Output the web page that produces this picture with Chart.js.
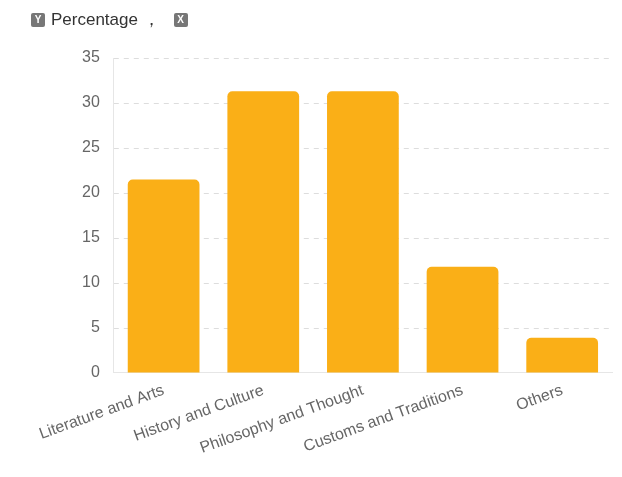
<!DOCTYPE html>
<html>
<head>
<meta charset="utf-8">
<script src="https://cdn.jsdelivr.net/npm/chart.js@4"></script>
<style>
  html, body { margin: 0; padding: 0; background: #fff; }
  #wrap { position: relative; width: 622px; height: 477px; }
  #legend { position: absolute; left: 31px; top: 8px; font-family: "Liberation Sans", Arial, sans-serif; font-size: 17px; color: #333; display: flex; align-items: center; }
  .badge { display: inline-block; width: 14px; height: 14px; line-height: 14px; background: #777; color: #fff; font-size: 10px; font-weight: bold; text-align: center; border-radius: 2px; }
  canvas { position: absolute; left: 0; top: 0; }
</style>
</head>
<body>
<div id="wrap">
  <canvas id="chart" width="622" height="477"></canvas>
  <div id="legend">
    <span class="badge">Y</span><span style="margin-left:6px">Percentage ，</span><span class="badge" style="margin-left:14px">X</span>
  </div>
</div>
<script>
// categorias e valores
const categorias = ["Literature and Arts", "History and Culture", "Philosophy and Thought", "Customs and Traditions", "Others"];
const percentagens = [21.5, 31.3, 31.3, 11.8, 3.9];
const ticksY = [0, 5, 10, 15, 20, 25, 30, 35];

const ctx = document.getElementById("chart").getContext("2d");
new Chart(ctx, {
  type: "bar",
  data: {
    labels: categorias,
    datasets: [
      {
        label: "Percentage",
        data: percentagens,
        backgroundColor: "#FAAF17",
        borderRadius: { topLeft: 5, topRight: 5 },
        borderSkipped: "bottom",
        barPercentage: 0.72,
        categoryPercentage: 1,
      },
    ],
  },
  options: {
    responsive: false,
    animation: false,
    layout: { padding: { top: 58, right: 10, left: 68, bottom: 11 } },
    plugins: {
      legend: { display: false },
      tooltip: { enabled: false },
    },
    scales: {
      x: {
        grid: { display: false, drawTicks: false },
        border: { color: "#e6e6e6" },
        ticks: {
          color: "#666",
          font: { family: "Liberation Sans, Arial, sans-serif", size: 16 },
          minRotation: 20,
          maxRotation: 20,
          padding: 8,
        },
      },
      y: {
        min: ticksY[0],
        max: ticksY[ticksY.length - 1],
        afterBuildTicks: (axis) => {
          axis.ticks = ticksY.map((v) => ({ value: v }));
        },
        grid: { color: "#dddddd", drawTicks: false },
        border: { color: "#e6e6e6", dash: [0, 0] },
        ticks: {
          color: "#666",
          font: { family: "Liberation Sans, Arial, sans-serif", size: 16 },
          padding: 14,
        },
      },
    },
  },
  plugins: [
    {
      // linhas de grade tracejadas
      id: "gradeTracejada",
      beforeDraw(chart) {
        const y = chart.scales.y;
        y.options.grid.display = false;
        const c = chart.ctx;
        c.save();
        c.strokeStyle = "#dddddd";
        c.lineWidth = 1;
        c.setLineDash([5, 5]);
        y.ticks.forEach((t) => {
          if (t.value === 0) return;
          const py = Math.round(y.getPixelForValue(t.value)) + 0.5;
          c.beginPath();
          c.moveTo(chart.chartArea.left, py);
          c.lineTo(chart.chartArea.right, py);
          c.stroke();
        });
        c.restore();
      },
    },
  ],
});
</script>
</body>
</html>
